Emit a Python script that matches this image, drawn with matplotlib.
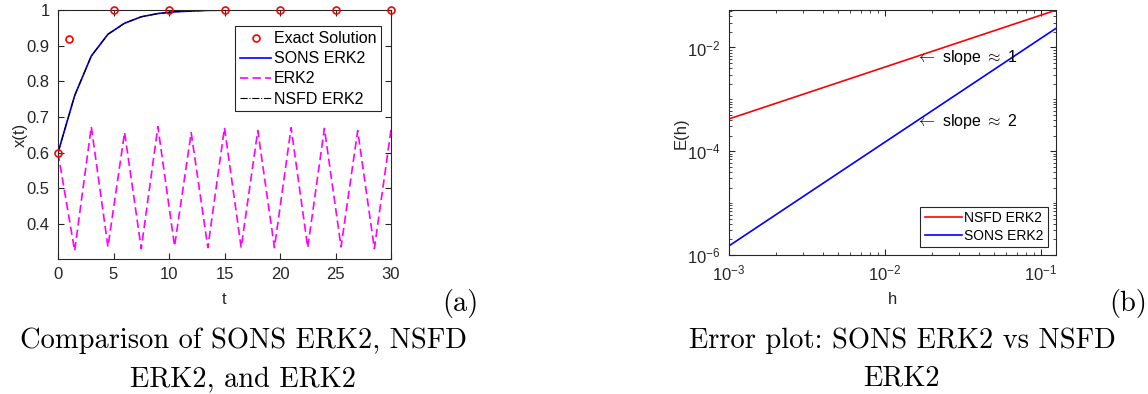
import matplotlib
matplotlib.use("Agg")
import matplotlib.pyplot as plt
from matplotlib.ticker import LogLocator, NullFormatter

plt.rcParams['font.family'] = ['Liberation Sans', 'DejaVu Sans']
plt.rcParams['mathtext.fontset'] = 'custom'
plt.rcParams['mathtext.rm'] = 'Liberation Sans'
plt.rcParams['mathtext.it'] = 'Liberation Sans:italic'
plt.rcParams['mathtext.bf'] = 'Liberation Sans:bold'

# ---- data (a) ----
t_exact = [0, 1, 5, 10, 15, 20, 25, 30]
x_exact = [0.6, 0.918, 1.0, 1.0, 1.0, 1.0, 1.0, 1.0]
t_num = [0, 1.5, 3, 4.5, 6, 7.5, 9, 10.5, 12, 13.5, 15, 16.5, 18, 19.5, 21,
         22.5, 24, 25.5, 27, 28.5, 30]
x_sons = [0.6, 0.760, 0.871, 0.932, 0.963, 0.981, 0.990, 0.995, 0.997, 0.999,
          0.9995, 1.0, 1.0, 1.0, 1.0, 1.0, 1.0, 1.0, 1.0, 1.0, 1.0]
x_nsfd = [0.6, 0.760, 0.871, 0.932, 0.963, 0.981, 0.990, 0.995, 0.997, 0.999,
          0.9995, 1.0, 1.0, 1.0, 1.0, 1.0, 1.0, 1.0, 1.0, 1.0, 1.0]
x_erk2 = [0.6, 0.325, 0.673, 0.336, 0.657, 0.331, 0.673, 0.338, 0.656, 0.334,
          0.670, 0.334, 0.662, 0.334, 0.670, 0.334, 0.668, 0.336, 0.662, 0.331,
          0.664]

# ---- data (b) ----
h_vals = [0.001, 0.002, 0.005, 0.01, 0.02, 0.05, 0.1, 0.125]
e_nsfd = [4.2e-4, 8.4e-4, 2.1e-3, 4.2e-3, 8.4e-3, 2.1e-2, 4.2e-2, 5.25e-2]
e_sons = [1.5e-6, 6.0e-6, 3.75e-5, 1.5e-4, 6.0e-4, 3.75e-3, 1.5e-2, 2.34e-2]

W, H = 1148, 394
fig = plt.figure(figsize=(W / 100, H / 100), dpi=100)

spine_c = '#262626'
TS = 12

def style(ax):
    for s in ax.spines.values():
        s.set_color(spine_c)
        s.set_linewidth(0.8)
    ax.tick_params(which='both', direction='in', top=True, right=True,
                   colors=spine_c, labelsize=TS)
    ax.tick_params(which='major', length=4, pad=6)
    ax.tick_params(which='minor', length=2)

# ---- panel (a) ----
a1_l, a1_r, a1_t, a1_b = 58, 391, 10, 259
ax1 = fig.add_axes([a1_l / W, 1 - a1_b / H, (a1_r - a1_l) / W, (a1_b - a1_t) / H])
ax1.plot(t_exact, x_exact, 'o', color='#FF0000', mfc='none', ms=5, mew=1.2,
         label='Exact Solution', clip_on=False, zorder=5)
ax1.plot(t_num, x_sons, '-', color='#0000FF', lw=1.2, label='SONS ERK2')
ax1.plot(t_num, x_erk2, '--', color='#FF00FF', lw=1.2, dashes=(5, 2.5), label='ERK2')
ax1.plot(t_num, x_nsfd, '-.', color='black', lw=0.8, label='NSFD ERK2')
ax1.set_xlim(0, 30)
ax1.set_ylim(0.302, 1.0)
ax1.set_xticks([0, 5, 10, 15, 20, 25, 30])
ax1.set_yticks([0.4, 0.5, 0.6, 0.7, 0.8, 0.9, 1.0])
ax1.set_yticklabels(['0.4', '0.5', '0.6', '0.7', '0.8', '0.9', '1'])
style(ax1)
ax1.set_xlabel('t', fontsize=TS, color=spine_c, va='center')
ax1.xaxis.set_label_coords(0.5, -(299 - a1_b) / (a1_b - a1_t))
ax1.set_ylabel('x(t)', fontsize=TS, color=spine_c, va='center')
ax1.yaxis.set_label_coords(-(a1_l - 20) / (a1_r - a1_l), 0.5)
leg1 = ax1.legend(loc='upper right', bbox_to_anchor=(0.97, 0.934), fontsize=11.5,
                  handlelength=1.95, handletextpad=0.15, borderpad=0.3,
                  borderaxespad=0, labelspacing=0.32, fancybox=False,
                  framealpha=1, edgecolor=spine_c)
leg1.get_frame().set_linewidth(0.8)

# ---- panel (b) ----
a2_l, a2_r, a2_t, a2_b = 729, 1056, 10, 255
ax2 = fig.add_axes([a2_l / W, 1 - a2_b / H, (a2_r - a2_l) / W, (a2_b - a2_t) / H])
ax2.loglog(h_vals, e_nsfd, '-', color='#FF0000', lw=1.2, label='NSFD ERK2')
ax2.loglog(h_vals, e_sons, '-', color='#0000FF', lw=1.2, label='SONS ERK2')
ax2.set_xlim(1e-3, 0.125)
ax2.set_ylim(1e-6, 0.0528)
ax2.xaxis.set_major_locator(LogLocator(base=10, numticks=10))
ax2.set_yticks([1e-6, 1e-4, 1e-2])
ax2.xaxis.set_minor_locator(LogLocator(base=10, subs=range(2, 10), numticks=20))
ax2.yaxis.set_minor_locator(LogLocator(base=10, subs=range(1, 10), numticks=20))
ax2.yaxis.set_minor_formatter(NullFormatter())
ax2.xaxis.set_minor_formatter(NullFormatter())
style(ax2)
ax2.set_xlabel('h', fontsize=TS, color=spine_c, va='center')
ax2.xaxis.set_label_coords(0.5, -(299 - a2_b) / (a2_b - a2_t))
ax2.set_ylabel('E(h)', fontsize=TS, color=spine_c, va='center')
ax2.yaxis.set_label_coords(-(a2_l - 681) / (a2_r - a2_l), (a2_b - 133) / (a2_b - a2_t))
ax2.text(0.0158, 6.3e-3, r'$\leftarrow$ slope $\approx$ 1', fontsize=11.5,
         va='center', ha='left', color='black', math_fontfamily='cm')
ax2.text(0.0158, 3.7e-4, r'$\leftarrow$ slope $\approx$ 2', fontsize=11.5,
         va='center', ha='left', color='black', math_fontfamily='cm')
leg2 = ax2.legend(loc='lower right', bbox_to_anchor=(0.975, 0.033), fontsize=10,
                  handlelength=2.7, handletextpad=0.15, borderpad=0.3,
                  borderaxespad=0, labelspacing=0.25, fancybox=False,
                  framealpha=1, edgecolor=spine_c)
leg2.get_frame().set_linewidth(0.8)

# ---- captions ----
cap = dict(family=['cmr10', 'DejaVu Serif'], fontsize=20.5, color='black')
fig.text(460 / W, 1 - 304 / H, '(a)', ha='center', va='center', **cap)
fig.text(1128 / W, 1 - 304 / H, '(b)', ha='center', va='center', **cap)
fig.text(243 / W, 1 - 348 / H, 'Comparison of SONS ERK2, NSFD',
         ha='center', va='baseline', **cap)
fig.text(243 / W, 1 - 386 / H, 'ERK2, and ERK2',
         ha='center', va='baseline', **cap)
fig.text(902 / W, 1 - 348 / H, 'Error plot: SONS ERK2 vs NSFD',
         ha='center', va='baseline', **cap)
fig.text(902 / W, 1 - 386 / H, 'ERK2',
         ha='center', va='baseline', **cap)

fig.savefig('out.png', dpi=100)
